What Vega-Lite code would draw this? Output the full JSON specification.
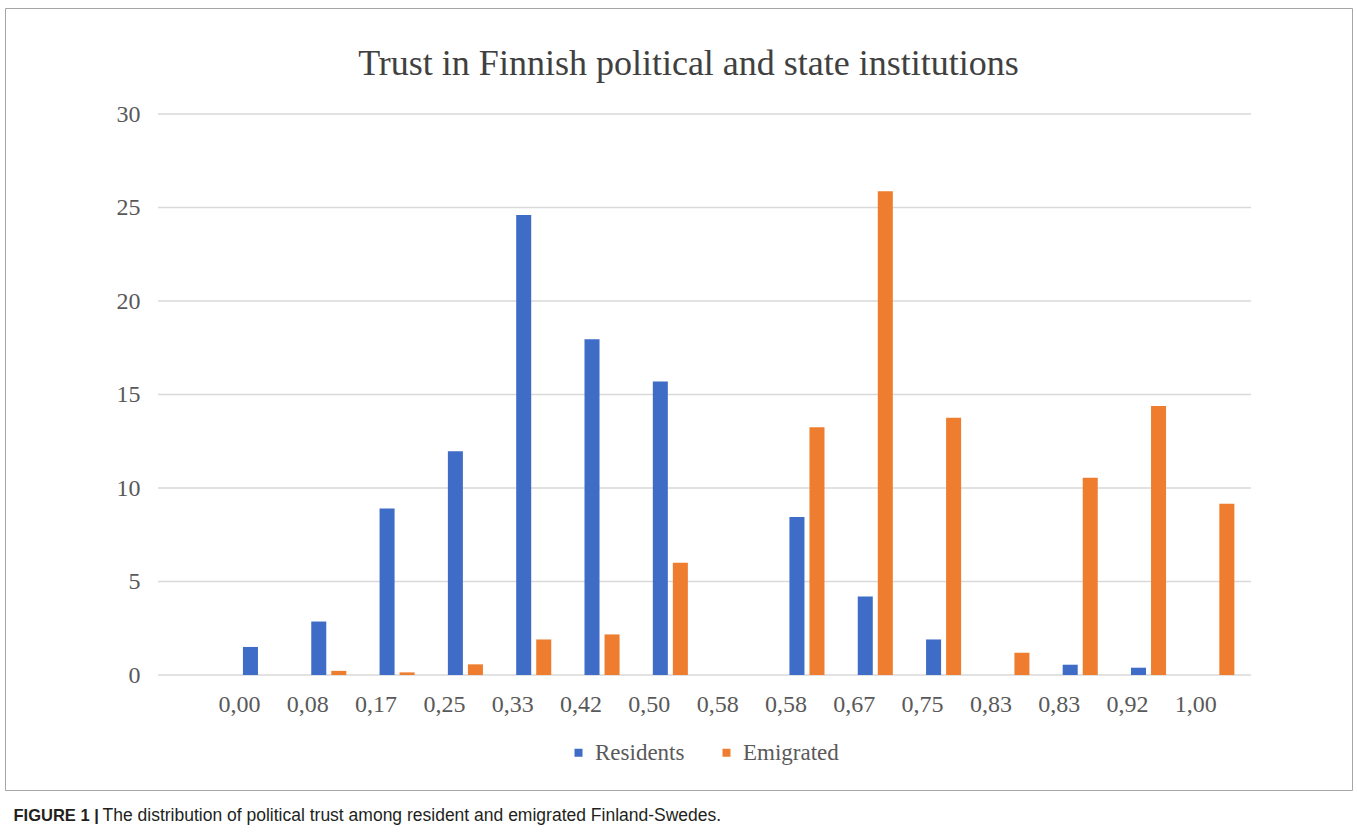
{
  "$schema": "https://vega.github.io/schema/vega-lite/v6.json",
  "width": 1347,
  "height": 782,
  "autosize": {"type": "none"},
  "padding": {"left": 5, "top": 8, "right": 5, "bottom": 49},
  "background": "white",
  "title": {
    "text": "Trust in Finnish political and state institutions",
    "font": "Liberation Serif",
    "fontSize": 36,
    "fontWeight": "normal",
    "color": "#404040",
    "anchor": "middle",
    "frame": "group",
    "baseline": "alphabetic",
    "offset": -103,
    "dx": 10
  },
  "config": {
    "view": {"stroke": "#a6a6a6", "strokeWidth": 1}
  },
  "datasets": {
    "bars": [
      {"cat": "a0,00", "group": "Residents", "value": 1.5},
      {"cat": "b0,08", "group": "Residents", "value": 2.86},
      {"cat": "b0,08", "group": "Emigrated", "value": 0.22},
      {"cat": "c0,17", "group": "Residents", "value": 8.9},
      {"cat": "c0,17", "group": "Emigrated", "value": 0.14},
      {"cat": "d0,25", "group": "Residents", "value": 11.96},
      {"cat": "d0,25", "group": "Emigrated", "value": 0.57},
      {"cat": "e0,33", "group": "Residents", "value": 24.6},
      {"cat": "e0,33", "group": "Emigrated", "value": 1.9},
      {"cat": "f0,42", "group": "Residents", "value": 17.95},
      {"cat": "f0,42", "group": "Emigrated", "value": 2.17},
      {"cat": "g0,50", "group": "Residents", "value": 15.7},
      {"cat": "g0,50", "group": "Emigrated", "value": 6.0},
      {"cat": "i0,58", "group": "Residents", "value": 8.45},
      {"cat": "i0,58", "group": "Emigrated", "value": 13.25},
      {"cat": "j0,67", "group": "Residents", "value": 4.2},
      {"cat": "j0,67", "group": "Emigrated", "value": 25.87},
      {"cat": "k0,75", "group": "Residents", "value": 1.9},
      {"cat": "k0,75", "group": "Emigrated", "value": 13.76},
      {"cat": "l0,83", "group": "Emigrated", "value": 1.19},
      {"cat": "m0,83", "group": "Residents", "value": 0.55},
      {"cat": "m0,83", "group": "Emigrated", "value": 10.55},
      {"cat": "n0,92", "group": "Residents", "value": 0.39},
      {"cat": "n0,92", "group": "Emigrated", "value": 14.38},
      {"cat": "o1,00", "group": "Emigrated", "value": 9.16}
    ],
    "grid": [
      {"g": 0}, {"g": 5}, {"g": 10}, {"g": 15}, {"g": 20}, {"g": 25}, {"g": 30}
    ]
  },
  "layer": [
    {
      "data": {"name": "grid"},
      "mark": {"type": "rule", "stroke": "#d9d9d9", "strokeWidth": 1.5},
      "encoding": {
        "y": {"field": "g", "type": "quantitative"},
        "x": {"datum": "_", "type": "nominal", "bandPosition": 0},
        "x2": {"datum": "o1,00", "bandPosition": 1}
      }
    },
    {
      "data": {"name": "bars"},
      "mark": {"type": "bar"},
      "encoding": {
        "x": {
          "field": "cat",
          "type": "nominal",
          "scale": {
            "type": "band",
            "domain": ["_", "a0,00", "b0,08", "c0,17", "d0,25", "e0,33", "f0,42", "g0,50", "h0,58", "i0,58", "j0,67", "k0,75", "l0,83", "m0,83", "n0,92", "o1,00"],
            "range": [153, 1246],
            "paddingInner": 0,
            "paddingOuter": 0
          },
          "axis": {
            "title": "The distribution of political trust among resident and emigrated Finland-Swedes.",
            "titleFont": "Liberation Sans",
            "titleFontSize": 17.5,
            "titleFontWeight": "normal",
            "titleColor": "#231f20",
            "titleAlign": "left",
            "titleBaseline": "alphabetic",
            "titleAnchor": "start",
            "titleX": 97,
            "titleY": 145,
            "labelExpr": "slice(datum.value, 1)",
            "labelAngle": 0,
            "labelFont": "Liberation Serif",
            "labelFontSize": 24,
            "labelColor": "#595959",
            "labelPadding": 29,
            "ticks": false,
            "tickSize": 0,
            "domain": false,
            "grid": false,
            "offset": -115
          }
        },
        "xOffset": {
          "field": "group",
          "type": "nominal",
          "scale": {"domain": ["Residents", "Emigrated"], "paddingInner": 0.25, "paddingOuter": 0.83}
        },
        "y": {
          "field": "value",
          "type": "quantitative",
          "scale": {"domain": [0, 30], "range": [667, 106], "nice": false},
          "axis": {
            "values": [0, 5, 10, 15, 20, 25, 30],
            "title": "FIGURE 1 |",
            "titleFont": "Liberation Sans",
            "titleFontSize": 16.5,
            "titleFontWeight": "bold",
            "titleColor": "#231f20",
            "titleAngle": 0,
            "titleAlign": "left",
            "titleBaseline": "alphabetic",
            "titleAnchor": "start",
            "titleX": -145,
            "titleY": 812,
            "labelFont": "Liberation Serif",
            "labelFontSize": 24,
            "labelColor": "#595959",
            "labelPadding": 18,
            "ticks": false,
            "tickSize": 0,
            "domain": false,
            "grid": false,
            "offset": -153
          }
        },
        "color": {
          "field": "group",
          "type": "nominal",
          "scale": {"domain": ["Residents", "Emigrated"], "range": ["#3f6cc6", "#ee7d2f"]},
          "legend": {
            "title": null,
            "orient": "none",
            "direction": "horizontal",
            "legendX": 562,
            "legendY": 733,
            "padding": 0,
            "symbolType": "square",
            "symbolSize": 64,
            "symbolStrokeWidth": 0,
            "symbolOpacity": 1,
            "labelFont": "Liberation Serif",
            "labelFontSize": 23,
            "labelColor": "#595959",
            "labelOffset": 5,
            "columnPadding": 30,
            "labelLimit": 0
          }
        }
      }
    }
  ]
}
